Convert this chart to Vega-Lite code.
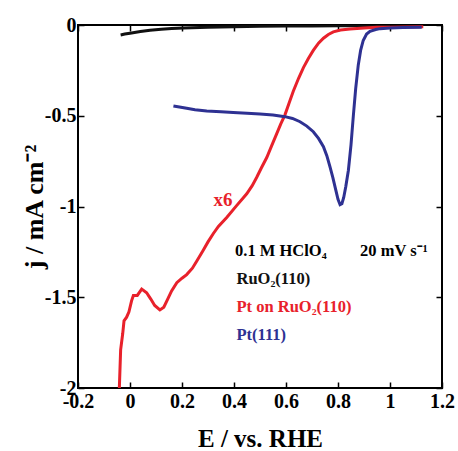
{
  "$schema": "https://vega.github.io/schema/vega-lite/v6.json",
  "autosize": {"type": "none"},
  "padding": {"left": 78, "top": 25, "right": 16, "bottom": 63},
  "width": 364,
  "height": 363,
  "background": "white",
  "config": {
    "view": {"stroke": "black", "strokeWidth": 2},
    "font": "Liberation Serif",
    "axis": {
      "domain": false,
      "grid": false,
      "ticks": true,
      "tickColor": "black",
      "tickWidth": 1.5,
      "tickSize": -6,
      "labelFont": "Liberation Serif",
      "labelFontWeight": "bold",
      "labelFontSize": 20,
      "labelColor": "black",
      "labelFlush": false,
      "labelOverlap": false,
      "titleFont": "Liberation Serif",
      "titleFontWeight": "bold",
      "titleFontSize": 25,
      "titleColor": "black"
    }
  },
  "datasets": {
    "curves": [
      {"series": "RuO₂(110)", "E": -0.036, "j": -0.055},
      {"series": "RuO₂(110)", "E": -0.02, "j": -0.05},
      {"series": "RuO₂(110)", "E": 0.0, "j": -0.045},
      {"series": "RuO₂(110)", "E": 0.04, "j": -0.036},
      {"series": "RuO₂(110)", "E": 0.077, "j": -0.029},
      {"series": "RuO₂(110)", "E": 0.12, "j": -0.023},
      {"series": "RuO₂(110)", "E": 0.16, "j": -0.019},
      {"series": "RuO₂(110)", "E": 0.205, "j": -0.016},
      {"series": "RuO₂(110)", "E": 0.3, "j": -0.012},
      {"series": "RuO₂(110)", "E": 0.4, "j": -0.009},
      {"series": "RuO₂(110)", "E": 0.5, "j": -0.007},
      {"series": "RuO₂(110)", "E": 0.6, "j": -0.006},
      {"series": "RuO₂(110)", "E": 0.7, "j": -0.005},
      {"series": "RuO₂(110)", "E": 0.8, "j": -0.004},
      {"series": "RuO₂(110)", "E": 0.9, "j": -0.004},
      {"series": "RuO₂(110)", "E": 1.0, "j": -0.003},

      {"series": "Pt on RuO₂(110)", "E": -0.041, "j": -2.0},
      {"series": "Pt on RuO₂(110)", "E": -0.036, "j": -1.79},
      {"series": "Pt on RuO₂(110)", "E": -0.028, "j": -1.7},
      {"series": "Pt on RuO₂(110)", "E": -0.023, "j": -1.63},
      {"series": "Pt on RuO₂(110)", "E": -0.013, "j": -1.61},
      {"series": "Pt on RuO₂(110)", "E": -0.004, "j": -1.58},
      {"series": "Pt on RuO₂(110)", "E": 0.006, "j": -1.52},
      {"series": "Pt on RuO₂(110)", "E": 0.013, "j": -1.49},
      {"series": "Pt on RuO₂(110)", "E": 0.028, "j": -1.49},
      {"series": "Pt on RuO₂(110)", "E": 0.045, "j": -1.455},
      {"series": "Pt on RuO₂(110)", "E": 0.064, "j": -1.475},
      {"series": "Pt on RuO₂(110)", "E": 0.08, "j": -1.51},
      {"series": "Pt on RuO₂(110)", "E": 0.095, "j": -1.545},
      {"series": "Pt on RuO₂(110)", "E": 0.115, "j": -1.57},
      {"series": "Pt on RuO₂(110)", "E": 0.13, "j": -1.555},
      {"series": "Pt on RuO₂(110)", "E": 0.145, "j": -1.51},
      {"series": "Pt on RuO₂(110)", "E": 0.16, "j": -1.465},
      {"series": "Pt on RuO₂(110)", "E": 0.18, "j": -1.42},
      {"series": "Pt on RuO₂(110)", "E": 0.2, "j": -1.395},
      {"series": "Pt on RuO₂(110)", "E": 0.218, "j": -1.375},
      {"series": "Pt on RuO₂(110)", "E": 0.24, "j": -1.34},
      {"series": "Pt on RuO₂(110)", "E": 0.257, "j": -1.3},
      {"series": "Pt on RuO₂(110)", "E": 0.28, "j": -1.245},
      {"series": "Pt on RuO₂(110)", "E": 0.3, "j": -1.195},
      {"series": "Pt on RuO₂(110)", "E": 0.32, "j": -1.15},
      {"series": "Pt on RuO₂(110)", "E": 0.34, "j": -1.11},
      {"series": "Pt on RuO₂(110)", "E": 0.372, "j": -1.06},
      {"series": "Pt on RuO₂(110)", "E": 0.41, "j": -0.995},
      {"series": "Pt on RuO₂(110)", "E": 0.449, "j": -0.93},
      {"series": "Pt on RuO₂(110)", "E": 0.47, "j": -0.885},
      {"series": "Pt on RuO₂(110)", "E": 0.487, "j": -0.84},
      {"series": "Pt on RuO₂(110)", "E": 0.506, "j": -0.785},
      {"series": "Pt on RuO₂(110)", "E": 0.526, "j": -0.73},
      {"series": "Pt on RuO₂(110)", "E": 0.545, "j": -0.665},
      {"series": "Pt on RuO₂(110)", "E": 0.564, "j": -0.6},
      {"series": "Pt on RuO₂(110)", "E": 0.58, "j": -0.545},
      {"series": "Pt on RuO₂(110)", "E": 0.596, "j": -0.495},
      {"series": "Pt on RuO₂(110)", "E": 0.612, "j": -0.43},
      {"series": "Pt on RuO₂(110)", "E": 0.628, "j": -0.365},
      {"series": "Pt on RuO₂(110)", "E": 0.648, "j": -0.295},
      {"series": "Pt on RuO₂(110)", "E": 0.667, "j": -0.235},
      {"series": "Pt on RuO₂(110)", "E": 0.686, "j": -0.185},
      {"series": "Pt on RuO₂(110)", "E": 0.705, "j": -0.14},
      {"series": "Pt on RuO₂(110)", "E": 0.725, "j": -0.1},
      {"series": "Pt on RuO₂(110)", "E": 0.744, "j": -0.073},
      {"series": "Pt on RuO₂(110)", "E": 0.763, "j": -0.052},
      {"series": "Pt on RuO₂(110)", "E": 0.782, "j": -0.038},
      {"series": "Pt on RuO₂(110)", "E": 0.81, "j": -0.028},
      {"series": "Pt on RuO₂(110)", "E": 0.846, "j": -0.022},
      {"series": "Pt on RuO₂(110)", "E": 0.9, "j": -0.016},
      {"series": "Pt on RuO₂(110)", "E": 0.95, "j": -0.013},
      {"series": "Pt on RuO₂(110)", "E": 1.0, "j": -0.012},
      {"series": "Pt on RuO₂(110)", "E": 1.05, "j": -0.011},
      {"series": "Pt on RuO₂(110)", "E": 1.128, "j": -0.01},

      {"series": "Pt(111)", "E": 0.167, "j": -0.446},
      {"series": "Pt(111)", "E": 0.19, "j": -0.452},
      {"series": "Pt(111)", "E": 0.218, "j": -0.459},
      {"series": "Pt(111)", "E": 0.25, "j": -0.467},
      {"series": "Pt(111)", "E": 0.295, "j": -0.474},
      {"series": "Pt(111)", "E": 0.35, "j": -0.478},
      {"series": "Pt(111)", "E": 0.397, "j": -0.482},
      {"series": "Pt(111)", "E": 0.45, "j": -0.486},
      {"series": "Pt(111)", "E": 0.5, "j": -0.49},
      {"series": "Pt(111)", "E": 0.55, "j": -0.496},
      {"series": "Pt(111)", "E": 0.596, "j": -0.505},
      {"series": "Pt(111)", "E": 0.625, "j": -0.515},
      {"series": "Pt(111)", "E": 0.654, "j": -0.533},
      {"series": "Pt(111)", "E": 0.68, "j": -0.557},
      {"series": "Pt(111)", "E": 0.705, "j": -0.588},
      {"series": "Pt(111)", "E": 0.725, "j": -0.625},
      {"series": "Pt(111)", "E": 0.744, "j": -0.67},
      {"series": "Pt(111)", "E": 0.757, "j": -0.72},
      {"series": "Pt(111)", "E": 0.769, "j": -0.78},
      {"series": "Pt(111)", "E": 0.78, "j": -0.84},
      {"series": "Pt(111)", "E": 0.79, "j": -0.9},
      {"series": "Pt(111)", "E": 0.8, "j": -0.96},
      {"series": "Pt(111)", "E": 0.808, "j": -0.99},
      {"series": "Pt(111)", "E": 0.815, "j": -0.985},
      {"series": "Pt(111)", "E": 0.822, "j": -0.95},
      {"series": "Pt(111)", "E": 0.83, "j": -0.89},
      {"series": "Pt(111)", "E": 0.84, "j": -0.8},
      {"series": "Pt(111)", "E": 0.85, "j": -0.66},
      {"series": "Pt(111)", "E": 0.859, "j": -0.5},
      {"series": "Pt(111)", "E": 0.868, "j": -0.35},
      {"series": "Pt(111)", "E": 0.878, "j": -0.22},
      {"series": "Pt(111)", "E": 0.887, "j": -0.14},
      {"series": "Pt(111)", "E": 0.897, "j": -0.085},
      {"series": "Pt(111)", "E": 0.91, "j": -0.05},
      {"series": "Pt(111)", "E": 0.923, "j": -0.035},
      {"series": "Pt(111)", "E": 0.945, "j": -0.025},
      {"series": "Pt(111)", "E": 0.962, "j": -0.02},
      {"series": "Pt(111)", "E": 1.0, "j": -0.016},
      {"series": "Pt(111)", "E": 1.05, "j": -0.014},
      {"series": "Pt(111)", "E": 1.122, "j": -0.012}
    ],
    "notes": [
      {"E": 0.404, "j": -1.244, "label": "0.1 M HClO₄"},
      {"E": 0.885, "j": -1.244, "label": "20 mV s⁻¹"}
    ],
    "factor": [
      {"E": 0.358, "j": -0.964, "label": "x6"}
    ]
  },
  "layer": [
    {
      "data": {"name": "curves"},
      "mark": {"type": "line", "strokeWidth": 3, "clip": true},
      "encoding": {
        "x": {
          "field": "E", "type": "quantitative",
          "scale": {"domain": [-0.2, 1.2], "nice": false, "zero": false},
          "axis": {
            "orient": "bottom",
            "values": [-0.2, 0, 0.2, 0.4, 0.6, 0.8, 1, 1.2],
            "labelExpr": "toString(datum.value)",
            "labelPadding": 9,
            "title": "E / vs. RHE",
            "titlePadding": 15
          }
        },
        "y": {
          "field": "j", "type": "quantitative",
          "scale": {"domain": [-2, 0], "nice": false, "zero": false},
          "axis": {
            "orient": "left",
            "values": [0, -0.5, -1, -1.5, -2],
            "labelExpr": "toString(datum.value)",
            "labelPadding": 8,
            "title": "j / mA cm⁻²",
            "titleFontSize": 26,
            "titlePadding": -3
          }
        },
        "color": {
          "field": "series", "type": "nominal",
          "scale": {
            "domain": ["RuO₂(110)", "Pt on RuO₂(110)", "Pt(111)"],
            "range": ["#111111", "#e8212b", "#2e3192"]
          },
          "legend": {
            "orient": "none",
            "legendX": 142,
            "legendY": 246,
            "title": null,
            "symbolSize": 0,
            "symbolStrokeWidth": 0,
            "symbolOpacity": 0,
            "labelOffset": 0,
            "labelFont": "Liberation Serif",
            "labelFontWeight": "bold",
            "labelFontSize": 16.5,
            "rowPadding": 11,
            "padding": 0,
            "encode": {"labels": {"update": {"fill": {"scale": "color", "field": "value"}}}}
          }
        }
      }
    },
    {
      "data": {"name": "notes"},
      "mark": {"type": "text", "align": "left", "baseline": "middle", "font": "Liberation Serif", "fontWeight": "bold", "fontSize": 16.5, "color": "black"},
      "encoding": {
        "x": {
          "field": "E", "type": "quantitative",
          "axis": {"orient": "top", "values": [-0.2, 0, 0.2, 0.4, 0.6, 0.8, 1, 1.2], "labels": false, "title": null}
        },
        "y": {
          "field": "j", "type": "quantitative",
          "axis": {"orient": "right", "values": [0, -0.5, -1, -1.5, -2], "labels": false, "title": null}
        },
        "text": {"field": "label"}
      }
    },
    {
      "data": {"name": "factor"},
      "mark": {"type": "text", "align": "center", "baseline": "middle", "font": "Liberation Serif", "fontWeight": "bold", "fontSize": 19, "color": "#e8212b"},
      "encoding": {
        "x": {"field": "E", "type": "quantitative", "axis": null},
        "y": {"field": "j", "type": "quantitative", "axis": null},
        "text": {"field": "label"}
      }
    }
  ],
  "resolve": {"axis": {"x": "independent", "y": "independent"}}
}
